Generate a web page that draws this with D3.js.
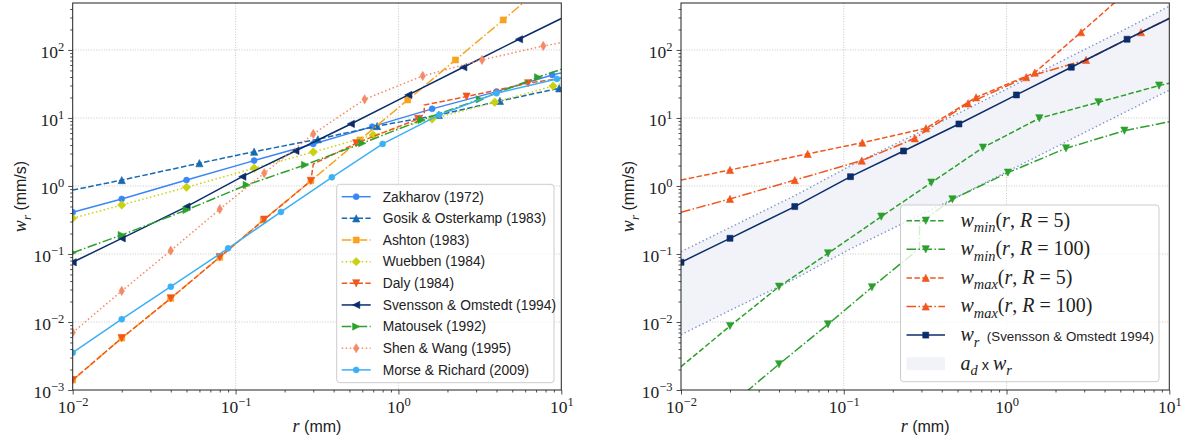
<!DOCTYPE html>
<html>
<head>
<meta charset="utf-8">
<script src="https://cdn.jsdelivr.net/npm/d3@7"></script>
<style>
  body { margin: 0; background: #fff; }
  svg { display: block; }
  text { white-space: pre; }
</style>
</head>
<body>
<svg id="chart" width="1192" height="444"></svg>
<script>
// ---- data: [r (mm), w (mm/s), marker? (0 = no marker)] ----
const zakharov = [[0.01,0.41],[0.02,0.645],[0.05,1.22],[0.13,2.36],[0.3,4.15],[0.69,7.45],[1.61,13.6],[4.0,24.4],[8.8,42.9],[10,46,0]];
const gosik    = [[0.01,0.87,0],[0.02,1.22],[0.06,2.16],[0.13,3.19],[0.32,4.86],[0.74,7.6],[1.77,11.1],[4.2,17.8],[9.7,27.3],[10,27.7,0]];
const ashton   = [[0.01,0.0014],[0.02,0.0058],[0.04,0.0223],[0.08,0.0894],[0.148,0.316],[0.29,1.19],[0.58,4.75],[1.14,18.4],[2.24,71.3],[4.4,276],[6,520,0]];
const wuebben  = [[0.01,0.335],[0.02,0.525],[0.05,0.957],[0.13,1.82],[0.3,3.15],[0.7,5.62],[1.61,9.66],[3.9,17.0],[8.9,29.5],[10,32,0]];
const daly     = [[0.01,0.0014],[0.02,0.0058],[0.04,0.0223],[0.08,0.09],[0.15,0.32],[0.29,1.19],[0.3,2.1,0],[0.55,4.25],[1.32,9.66],[1.44,11.5,0],[1.44,15.5,0],[2.62,20.6],[6.26,32.4],[10,38.4,0]];
const svensson = [[0.01,0.0755],[0.02,0.17],[0.05,0.497],[0.11,1.37],[0.233,3.27],[0.51,8.16],[1.15,21.8],[2.5,55.7],[5.5,143.6],[10,290,0]];
const matousek = [[0.01,0.1045],[0.02,0.19],[0.05,0.444],[0.117,1.035],[0.267,2.04],[0.6,4.25],[1.39,9.35],[3.16,18.8],[7.2,39.7],[10,52,0]];
const shen     = [[0.01,0.007],[0.02,0.0286],[0.04,0.112],[0.08,0.455],[0.15,1.54],[0.3,5.82],[0.62,18.8],[1.41,41.5],[3.26,71.3],[7.75,114.5],[10,128,0]];
const morse    = [[0.01,0.00354],[0.02,0.011],[0.04,0.033],[0.09,0.121],[0.19,0.415],[0.39,1.34],[0.8,4.15],[1.78,11.1],[4.0,23.1],[9.4,37.5],[10,38.5,0]];

// right panel
const wminR5   = [[0.01,0.0022,0],[0.02,0.00873],[0.04,0.033],[0.08,0.102],[0.17,0.354],[0.345,1.12],[0.716,3.66],[1.59,9.9],[3.67,17.0],[8.65,29.9],[10,32.4,0]];
const wminR100 = [[0.025,0.00093,0],[0.04,0.00239],[0.08,0.00925],[0.149,0.0324],[0.2,0.058,0],[0.292,0.121,0],[0.292,0.282,0],[0.465,0.637],[1.02,1.57],[2.32,3.58],[5.3,6.5],[10,8.8,0]];
const wmaxR5   = [[0.01,1.22,0],[0.02,1.72],[0.06,2.96],[0.13,4.33],[0.32,7.06],[0.65,20.1],[1.49,46.4],[2.87,182],[4.7,515,0],[6,1000,0]];
const wmaxR100 = [[0.01,0.41,0],[0.02,0.645],[0.05,1.22],[0.129,2.36],[0.273,5.02],[0.58,16.4],[1.32,39.7],[3.08,71.3],[6.7,182],[10,292,0]];
const bandLow  = [[0.01,0.0065],[0.02,0.0148],[0.05,0.043],[0.11,0.119],[0.233,0.284],[0.51,0.71],[1.15,1.9],[2.5,4.88],[5.5,12.6],[10,25.6]];
const bandHigh = [[0.01,0.108],[0.02,0.245],[0.05,0.72],[0.11,1.98],[0.233,4.75],[0.51,11.8],[1.15,31.5],[2.5,81],[5.5,208],[10,440]];

const xDomain = [1e-2, 10];
const yDomain = [1e-3, 490];
const xMajor = [1e-2, 1e-1, 1, 10];
const yMajor = [1e-3, 1e-2, 1e-1, 1, 10, 100];

const SERIF = "'Liberation Serif', 'DejaVu Serif', serif";
const SANS = "'Liberation Sans', Arial, sans-serif";
const BAND_FILL = '#f1f3f8';

const dashes = {
    solid: null,
    dashed: '5.5,2.4',
    dashdot: '9.6,2.4,1.5,2.4',
    dotted: '1.5,2.5'
};

const leftSeries = [
    { label: 'Zakharov (1972)',           data: zakharov, color: '#3a86f5', dash: 'solid',   marker: 'o' },
    { label: 'Gosik & Osterkamp (1983)',  data: gosik,    color: '#1769b0', dash: 'dashed',  marker: '^' },
    { label: 'Ashton (1983)',             data: ashton,   color: '#f8a31c', dash: 'dashdot', marker: 's' },
    { label: 'Wuebben (1984)',            data: wuebben,  color: '#c8d20e', dash: 'dotted',  marker: 'D' },
    { label: 'Daly (1984)',               data: daly,     color: '#f2561d', dash: 'dashed',  marker: 'v' },
    { label: 'Svensson & Omstedt (1994)', data: svensson, color: '#0b2d6b', dash: 'solid',   marker: '<' },
    { label: 'Matousek (1992)',           data: matousek, color: '#2ca02c', dash: 'dashdot', marker: '>' },
    { label: 'Shen & Wang (1995)',        data: shen,     color: '#f48a68', dash: 'dotted',  marker: 'd' },
    { label: 'Morse & Richard (2009)',    data: morse,    color: '#3cb0f5', dash: 'solid',   marker: 'o' }
];

const rightSeries = [
    { label: [['w','i'],['min','b'],['(','r'],['r','i'],[', ','r'],['R','i'],[' = 5)','r']],   data: wminR5,   color: '#2ca02c', dash: 'dashed',  marker: 'v' },
    { label: [['w','i'],['min','b'],['(','r'],['r','i'],[', ','r'],['R','i'],[' = 100)','r']], data: wminR100, color: '#2ca02c', dash: 'dashdot', marker: 'v' },
    { label: [['w','i'],['max','b'],['(','r'],['r','i'],[', ','r'],['R','i'],[' = 5)','r']],   data: wmaxR5,   color: '#f2561d', dash: 'dashed',  marker: '^' },
    { label: [['w','i'],['max','b'],['(','r'],['r','i'],[', ','r'],['R','i'],[' = 100)','r']], data: wmaxR100, color: '#f2561d', dash: 'dashdot', marker: '^' },
    { label: [['w','i'],['r','b'],['  (Svensson & Omstedt 1994)','s']],                    data: svensson, color: '#0b2d6b', dash: 'solid',   marker: 's' }
];
const bandLabel = [['a','i'],['d','b'],[' x ','s'],['w','i'],['r','b']];

const svg = d3.select('#chart');
const plotTop = 3, plotBottom = 390;

function markerPath(type) {
    const s = { o: 3, s: 3, D: 4.2, d: 4.6 }[type] || 3.6;
    switch (type) {
        case 'o': return `M${s},0A${s},${s} 0 1,1 ${-s},0A${s},${s} 0 1,1 ${s},0Z`;
        case 's': return `M${-s},${-s}H${s}V${s}H${-s}Z`;
        case '^': return `M0,${-s}L${s},${s}L${-s},${s}Z`;
        case 'v': return `M0,${s}L${s},${-s}L${-s},${-s}Z`;
        case '<': return `M${-s},0L${s},${-s}L${s},${s}Z`;
        case '>': return `M${s},0L${-s},${-s}L${-s},${s}Z`;
        case 'D': return `M0,${-s}L${s},0L0,${s}L${-s},0Z`;
        case 'd': return `M0,${-s}L${s * 0.6},0L0,${s}L${-s * 0.6},0Z`;
    }
}

// mixed math / sans text: kinds i = italic serif, r = roman serif, b = italic subscript, s = sans
function richText(textSel, parts, size, sansSize) {
    let shift = 0;
    parts.forEach(([str, kind]) => {
        const t = textSel.append('tspan').text(str);
        const target = kind === 'b' ? size * 0.28 : 0;
        if (target !== shift) { t.attr('dy', target - shift); shift = target; }
        if (kind === 's') {
            t.attr('font-family', SANS).attr('font-size', sansSize);
        } else {
            t.attr('font-family', SERIF).attr('font-size', kind === 'b' ? size * 0.72 : size);
            if (kind === 'i' || kind === 'b') t.attr('font-style', 'italic');
        }
    });
}

function drawSeries(g, s, x, y) {
    const line = d3.line().x(d => x(d[0])).y(d => y(d[1]));
    g.append('path')
        .attr('d', line(s.data))
        .attr('fill', 'none')
        .attr('stroke', s.color)
        .attr('stroke-width', 1.5)
        .attr('stroke-dasharray', dashes[s.dash]);
    g.selectAll(null)
        .data(s.data.filter(d => d[2] !== 0))
        .join('path')
        .attr('d', markerPath(s.marker))
        .attr('transform', d => `translate(${x(d[0])},${y(d[1])})`)
        .attr('fill', s.color)
        .attr('stroke', s.color)
        .attr('stroke-width', 0.6);
}

function expLabel(sel) {
    sel.each(function(d) {
        const t = d3.select(this);
        const e = Math.round(Math.log10(d));
        t.text(null);
        t.append('tspan').text('10');
        t.append('tspan').attr('dy', -7).attr('font-size', 12.5).text(e < 0 ? '\u2212' + (-e) : String(e));
    });
}

function drawPanel(p) {
    const x = d3.scaleLog().domain(xDomain).range([p.left, p.right]);
    const y = d3.scaleLog().domain(yDomain).range([plotBottom, plotTop]);
    const g = svg.append('g');

    svg.append('clipPath').attr('id', 'clip-' + p.id)
        .append('rect')
        .attr('x', p.left).attr('y', plotTop)
        .attr('width', p.right - p.left).attr('height', plotBottom - plotTop);

    // grid
    const grid = g.append('g').attr('stroke', '#b8b8b8').attr('stroke-width', 0.8).attr('stroke-dasharray', '1,1.6');
    grid.selectAll(null).data(xMajor.slice(1, -1)).join('line')
        .attr('x1', d => x(d)).attr('x2', d => x(d)).attr('y1', plotTop).attr('y2', plotBottom);
    grid.selectAll(null).data(yMajor.slice(1)).join('line')
        .attr('y1', d => y(d)).attr('y2', d => y(d)).attr('x1', p.left).attr('x2', p.right);

    const plot = g.append('g').attr('clip-path', `url(#clip-${p.id})`);

    if (p.band) {
        const area = d3.area()
            .x(d => x(d[0]))
            .y0((d, i) => y(bandLow[i][1]))
            .y1(d => y(d[1]));
        plot.append('path').attr('d', area(bandHigh)).attr('fill', BAND_FILL);
        const line = d3.line().x(d => x(d[0])).y(d => y(d[1]));
        [bandLow, bandHigh].forEach(b => {
            plot.append('path').attr('d', line(b))
                .attr('fill', 'none').attr('stroke', '#7d93cc')
                .attr('stroke-width', 1.4).attr('stroke-dasharray', '1.4,2.6');
        });
    }

    p.series.forEach(s => drawSeries(plot, s, x, y));

    // axes
    const xMinor = x.ticks().filter(d => !xMajor.includes(d));
    const yMinor = y.ticks().filter(d => !yMajor.some(m => Math.abs(m - d) / m < 1e-6));

    const axX = g.append('g').attr('transform', `translate(0,${plotBottom})`);
    axX.call(d3.axisBottom(x).tickValues(xMinor).tickSize(2.5).tickFormat(''));
    axX.append('g').call(d3.axisBottom(x).tickValues(xMajor).tickSize(4.5).tickPadding(6))
        .selectAll('.tick text').attr('font-family', SERIF).attr('font-size', 17.5).attr('fill', '#222')
        .call(expLabel);

    const axY = g.append('g').attr('transform', `translate(${p.left},0)`);
    axY.call(d3.axisLeft(y).tickValues(yMinor).tickSize(2.5).tickFormat(''));
    axY.append('g').call(d3.axisLeft(y).tickValues(yMajor).tickSize(4.5).tickPadding(4))
        .selectAll('.tick text').attr('font-family', SERIF).attr('font-size', 17.5).attr('fill', '#222')
        .attr('dy', '0.45em')
        .call(expLabel);

    g.selectAll('.domain').remove();
    g.selectAll('.tick line').attr('stroke', '#222').attr('stroke-width', 0.8);

    g.append('rect')
        .attr('x', p.left).attr('y', plotTop)
        .attr('width', p.right - p.left).attr('height', plotBottom - plotTop)
        .attr('fill', 'none').attr('stroke', '#222').attr('stroke-width', 1);

    // axis labels
    const xl = g.append('text')
        .attr('x', (p.left + p.right) / 2).attr('y', 432)
        .attr('text-anchor', 'middle').attr('fill', '#222');
    richText(xl, [['r', 'i'], [' (mm)', 's']], 18, 16);

    const yl = g.append('text')
        .attr('transform', `translate(${p.left - 47},${(plotTop + plotBottom) / 2}) rotate(-90)`)
        .attr('text-anchor', 'middle').attr('fill', '#222');
    richText(yl, [['w', 'i'], ['r', 'b'], [' (mm/s)', 's']], 18, 16);

    drawLegend(g, p.legend, p.series);
}

function drawLegend(g, L, series) {
    g.append('rect')
        .attr('x', L.x).attr('y', L.y).attr('width', L.w).attr('height', L.h)
        .attr('rx', 3).attr('fill', '#fff').attr('fill-opacity', 0.8)
        .attr('stroke', '#cccccc').attr('stroke-width', 1);

    const rowY = i => L.y + L.first + i * L.step;
    const hx0 = L.x + L.pad, hx1 = hx0 + L.handle;
    series.forEach((s, i) => {
        const yy = rowY(i);
        g.append('line')
            .attr('x1', hx0).attr('x2', hx1).attr('y1', yy).attr('y2', yy)
            .attr('stroke', s.color).attr('stroke-width', 1.5)
            .attr('stroke-dasharray', dashes[s.dash]);
        g.append('path').attr('d', markerPath(s.marker))
            .attr('transform', `translate(${(hx0 + hx1) / 2},${yy})`)
            .attr('fill', s.color).attr('stroke', s.color).attr('stroke-width', 0.6);
        const t = g.append('text')
            .attr('x', hx1 + L.gap).attr('y', yy + L.base).attr('fill', '#222');
        if (typeof s.label === 'string') {
            t.attr('font-family', SANS).attr('font-size', L.font).text(s.label);
        } else {
            richText(t, s.label, L.font, 13.3);
        }
    });
    if (L.band) {
        const yy = rowY(series.length);
        g.append('rect').attr('x', hx0).attr('y', yy - 6.5).attr('width', L.handle).attr('height', 13)
            .attr('fill', BAND_FILL);
        const t = g.append('text').attr('x', hx1 + L.gap).attr('y', yy + L.base).attr('fill', '#222');
        richText(t, bandLabel, L.font, 14.5);
    }
}

drawPanel({
    id: 'left', left: 72.7, right: 561.3, series: leftSeries,
    legend: { x: 336.7, y: 184.3, w: 217.3, h: 198.4, first: 12.4, step: 21.65, pad: 5, handle: 29, gap: 12, font: 13.8, base: 4.8 }
});

drawPanel({
    id: 'right', left: 681, right: 1169.3, series: rightSeries, band: true,
    legend: { x: 900.5, y: 205, w: 258.5, h: 176.7, first: 15.7, step: 28.6, pad: 6, handle: 38.5, gap: 15.5, font: 20, base: 5.8, band: true }
});
</script>
</body>
</html>
